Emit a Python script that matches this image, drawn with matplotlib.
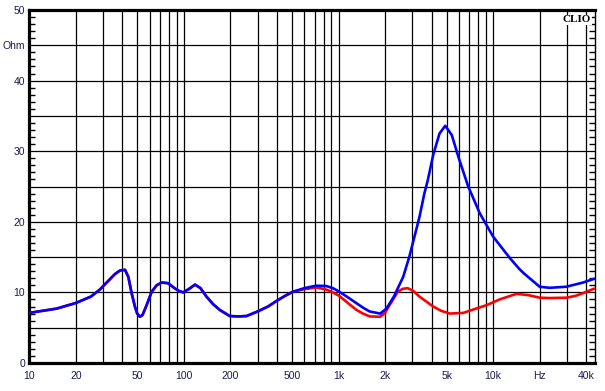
import matplotlib.pyplot as plt
import numpy as np
from matplotlib.ticker import FixedLocator

plt.rcParams['font.family'] = ['Liberation Sans', 'DejaVu Sans']

# impedance, blue trace (Hz, Ohm)
blue_f = [10, 15, 20, 25, 28.6, 31, 33, 35.8, 38.6, 41.6, 43.7, 45.9, 48.2, 49.9, 51.9, 54, 57.4, 61.9,
          66.6, 71.8, 79, 87, 93, 99, 108, 118, 128, 140, 155, 171, 198, 225, 254, 300, 350, 398,
          450, 508, 600, 719, 834, 920, 1012, 1150, 1310, 1450, 1590, 1860, 2040, 2280, 2620, 2870,
          3100, 3340, 3590, 3780, 4100, 4500, 4900, 5400, 6000, 6900, 8200, 10000, 12900, 14800,
          15800, 18800, 20000, 23200, 29700, 38200, 44700]
blue_z = [7.1, 7.7, 8.5, 9.4, 10.4, 11.2, 11.8, 12.6, 13.1, 13.2, 12.2, 9.9, 8.0, 7.0, 6.55, 6.8, 8.2, 10.1,
          11.0, 11.4, 11.3, 10.6, 10.2, 10.0, 10.5, 11.1, 10.6, 9.4, 8.3, 7.5, 6.65, 6.6, 6.65, 7.3, 8.0, 8.8,
          9.5, 10.1, 10.6, 10.95, 10.9, 10.6, 10.1, 9.3, 8.45, 7.8, 7.3, 7.0, 7.7, 9.4, 12.2, 15.05,
          17.9, 20.7, 24.0, 25.9, 29.5, 32.5, 33.6, 32.3, 29.0, 25.0, 21.2, 17.9, 14.8, 13.3,
          12.7, 11.3, 10.8, 10.65, 10.8, 11.4, 11.9]

# impedance, red trace (Hz, Ohm)
red_f = [10, 15, 20, 25, 28.6, 31, 33, 35.8, 38.6, 41.6, 43.7, 45.9, 48.2, 49.9, 51.9, 54, 57.4, 61.9,
         66.6, 71.8, 79, 87, 93, 99, 108, 118, 128, 140, 155, 171, 198, 225, 254, 300, 350, 398,
         450, 508, 600, 719, 834, 920, 1012, 1150, 1310, 1440, 1590, 1860, 2000, 2140, 2420, 2600,
         2800, 3050, 3340, 4100, 4600, 5260, 6420, 7500, 9100, 11000, 14200, 17000, 20000, 23200,
         29700, 34000, 38200, 44700]
red_z = [7.1, 7.7, 8.5, 9.4, 10.4, 11.2, 11.8, 12.6, 13.1, 13.2, 12.2, 9.9, 8.0, 7.0, 6.55, 6.8, 8.2, 10.1,
         11.0, 11.4, 11.3, 10.6, 10.2, 10.0, 10.5, 11.1, 10.6, 9.4, 8.3, 7.5, 6.65, 6.6, 6.65, 7.3, 8.0, 8.8,
         9.5, 10.1, 10.45, 10.7, 10.4, 10.0, 9.5, 8.5, 7.5, 7.0, 6.6, 6.55, 7.1, 8.2, 10.1, 10.5,
         10.6, 10.2, 9.4, 8.0, 7.4, 7.0, 7.1, 7.6, 8.2, 9.0, 9.8, 9.6, 9.25, 9.2,
         9.25, 9.5, 9.9, 10.5]

x_ticks = [10, 20, 50, 100, 200, 500, 1000, 2000, 5000, 10000, 20000, 40000]
x_labels = ['10', '20', '50', '100', '200', '500', '1k', '2k', '5k', '10k', 'Hz', '40k']
y_ticks = [0, 5, 10, 15, 20, 25, 30, 35, 40, 45, 50]
y_labels = ['0', '', '10', '', '20', '', '30', '', '40', 'Ohm', '50']

grid_x = [d * m for d in (10, 100, 1000, 10000) for m in range(1, 10) if d * m <= 40000]

fig = plt.figure(figsize=(6.05, 3.91), dpi=100)
ax = fig.add_axes([29.3 / 605, 1 - 363 / 391, (595 - 29.3) / 605, 353 / 391])

ax.plot(red_f, red_z, color='#ff0000', lw=1.9, zorder=3)
ax.plot(blue_f, blue_z, color='#0000ff', lw=1.9, zorder=4)

ax.set_xscale('log')
ax.set_xlim(10, 45600)
ax.set_ylim(0, 50)

for f in grid_x:
    ax.axvline(f, color='black', lw=0.9, zorder=1)
for v in y_ticks:
    ax.axhline(v, color='black', lw=0.9, zorder=1)

ax.xaxis.set_major_locator(FixedLocator(x_ticks))
ax.xaxis.set_minor_locator(FixedLocator([]))
ax.set_xticklabels(x_labels)
ax.tick_params(axis='x', length=0, pad=6, labelsize=7.5, labelcolor='#1a1a50')

ax.set_yticks(y_ticks)
ax.set_yticklabels(y_labels)
ax.yaxis.set_minor_locator(FixedLocator(np.arange(0, 51, 1)))
ax.tick_params(axis='y', which='major', length=0, pad=3, labelsize=7.5, labelcolor='#1a1a50')
ax.tick_params(axis='y', which='minor', direction='in', length=4, width=1, left=True, right=True)

for s in ['left', 'bottom', 'top']:
    ax.spines[s].set_linewidth(2.3)
ax.spines['right'].set_linewidth(1.0)

ax.text(0.993, 0.985, 'CLIO', transform=ax.transAxes, ha='right', va='top',
        fontfamily='Liberation Serif', fontweight='bold', fontsize=8, zorder=5,
        bbox=dict(facecolor='white', edgecolor='none', pad=0.5))

fig.savefig('out.png', dpi=100)
